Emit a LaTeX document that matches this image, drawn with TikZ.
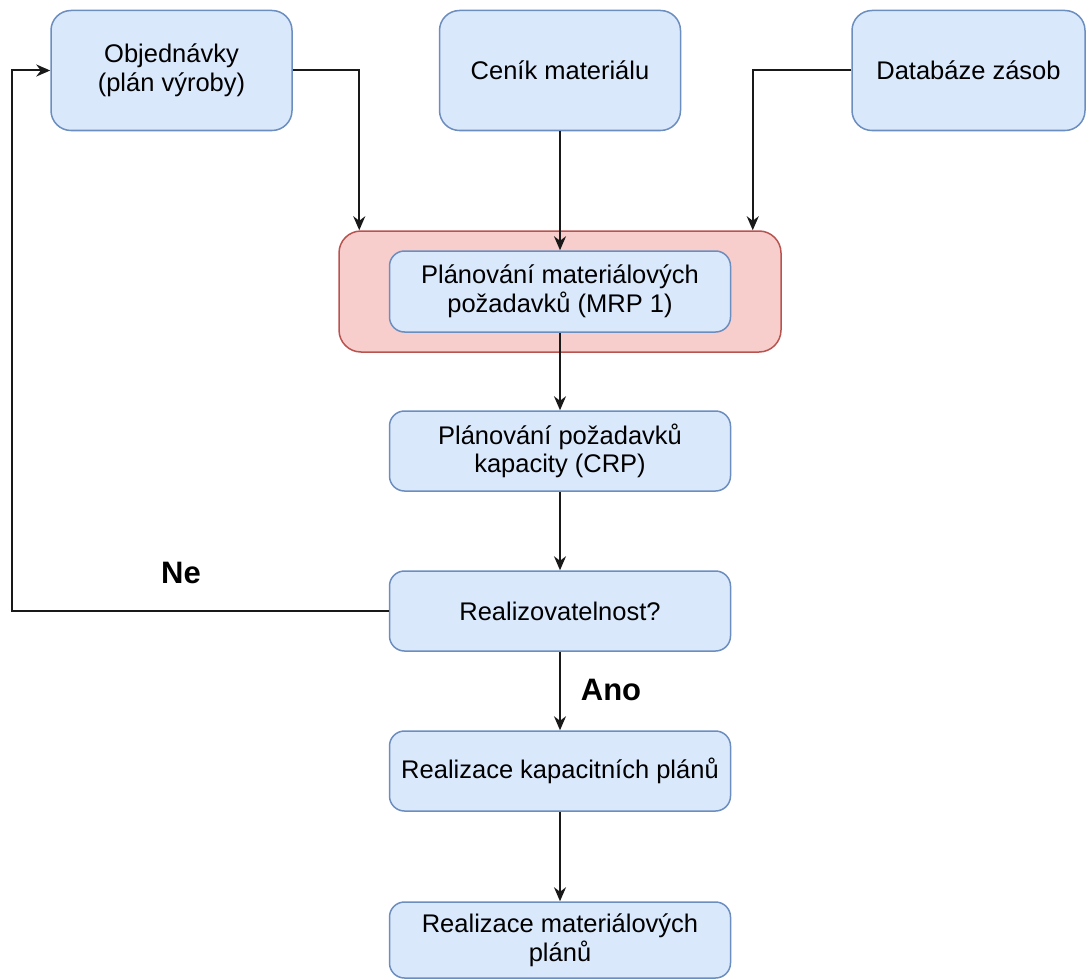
\documentclass[tikz,border=0pt]{standalone}
\usepackage{fontspec}
\setmainfont{Liberation Sans}
\usetikzlibrary{arrows.meta}
\definecolor{bfill}{HTML}{DAE8FC}
\definecolor{bdraw}{HTML}{6C8EBF}
\definecolor{rfill}{HTML}{F8CECC}
\definecolor{rdraw}{HTML}{B85450}
\tikzset{
  box/.style={draw=bdraw, fill=bfill, line width=1.5pt, rounded corners=15pt,
    align=center, inner sep=0pt, font=\fontsize{25.5}{28.5}\selectfont, text=black},
  topbox/.style={box, minimum width=241pt, minimum height=120pt, rounded corners=20pt},
  midbox/.style={box, minimum width=341pt, minimum height=80pt},
  redbox/.style={draw=rdraw, fill=rfill, line width=1.5pt, rounded corners=22pt,
    minimum width=442pt, minimum height=121pt, inner sep=0pt},
  arr/.style={line width=2pt, draw=black!90, -{Stealth[length=14pt,width=12pt]}},
  lbl/.style={font=\bfseries\fontsize{31}{34}\selectfont, text=black}
}
\begin{document}
\begin{tikzpicture}[x=1pt,y=-1pt]
\useasboundingbox (0,0) rectangle (1086,979);
\node[topbox] (obj) at (171.5,70.5) {Objednávky\\(plán výroby)};
\node[topbox] (cen) at (560,70.5) {Ceník materiálu};
\node[topbox, minimum width=233pt] (dat) at (968.5,70.5) {Databáze zásob};
\node[redbox] (red) at (560,291.5) {};
\node[midbox, minimum height=81pt] (mrp) at (560,291.5) {Plánování materiálových\\požadavků (MRP 1)};
\node[midbox] (crp) at (560,451) {Plánování požadavků\\kapacity (CRP)};
\node[midbox] (real) at (560,611) {Realizovatelnost?};
\node[midbox] (rkap) at (560,771) {Realizace kapacitních plánů};
\node[midbox, minimum height=76pt] (rmat) at (560,940) {Realizace materiálových\\plánů};
\coordinate (lp) at (12,611);
\draw[arr] (obj.east) -| ([xshift=21pt]red.north west);
\draw[arr] (dat.west) -| ([xshift=-29pt]red.north east);
\draw[arr] (cen.south) -- (mrp.north);
\draw[arr] (mrp.south) -- (crp.north);
\draw[arr] (crp.south) -- (real.north);
\draw[arr] (real.south) -- (rkap.north);
\draw[arr] (rkap.south) -- (rmat.north);
\draw[arr] (real.west) -- (lp) |- (obj.west);
\node[lbl] (ne) at (181,573) {Ne};
\node[lbl] (ano) at (611,690) {Ano};
\end{tikzpicture}
\end{document}
